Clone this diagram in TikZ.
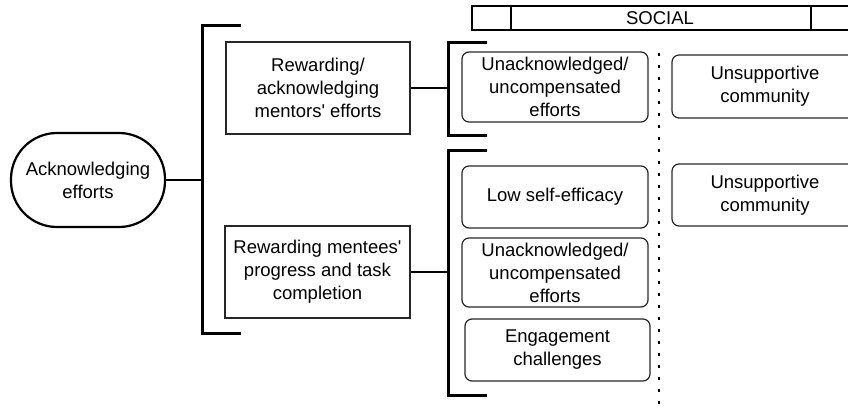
\documentclass[tikz,border=0pt]{standalone}
\usepackage{fontspec}
\setmainfont{Liberation Sans}[Ligatures=TeXOff]
\begin{document}
\begin{tikzpicture}[x=1pt,y=-1pt,
  every node/.style={font=\fontsize{18.5}{23}\selectfont, align=center, inner sep=2pt},
  sq/.style={draw, line width=1.2pt, draw=black!85},
  rbox/.style={draw, line width=1.2pt, draw=black!85, rounded corners=7pt},
  brk/.style={line width=3pt},
  conn/.style={line width=2.6pt},
  dotline/.style={line width=2.8pt, dash pattern=on 2.8pt off 9.2pt}]
\useasboundingbox (0,0) rectangle (848,409);
\clip (0,0) rectangle (848,409);
% header
\draw[line width=1.2pt] (472,6) rectangle (860,30);
\draw[line width=1.2pt] (511,6) -- (511,30);
\draw[line width=1.2pt] (811,6) -- (811,30);
\node[font=\fontsize{18.5}{23}\selectfont] (social) at (660,18.5) {SOCIAL};
% dotted divider
\coordinate (dtop) at (659,53);
\coordinate (dbot) at (659,412);
\draw[dotline] (dtop) -- (dbot);
% root
\node[draw, line width=2.2pt, rounded corners=46pt, minimum width=154pt, minimum height=94pt] (ack) at (88,180) {Acknowledging\\efforts};
% strategies
\node[sq, minimum width=184pt, minimum height=92pt] (rm) at (318,88) {Rewarding/\\acknowledging\\mentors' efforts};
\node[sq, minimum width=185pt, minimum height=92pt] (rt) at (317.5,272) {Rewarding mentees'\\progress and task\\completion};
% challenges
\node[rbox, minimum width=186pt, minimum height=70pt] (u1) at (555,87) {Unacknowledged/\\uncompensated\\efforts};
\node[rbox, minimum width=186pt, minimum height=63pt] (s1) at (765,86.5) {Unsupportive\\community};
\node[rbox, minimum width=186pt, minimum height=62pt] (low) at (555,197) {Low self-efficacy};
\node[rbox, minimum width=186pt, minimum height=62pt] (s2) at (765,195) {Unsupportive\\community};
\node[rbox, minimum width=186pt, minimum height=69pt] (u2) at (555,272.5) {Unacknowledged/\\uncompensated\\efforts};
\node[rbox, minimum width=185pt, minimum height=62pt] (eng) at (557.5,350) {Engagement\\challenges};
% brackets
\coordinate (b1t) at (241,26); \coordinate (b1a) at (202,26);
\coordinate (b1b) at (202,333); \coordinate (b1e) at (241,333);
\draw[brk] (b1t) -- (b1a) -- (b1b) -- (b1e);
\coordinate (b2t) at (487,43); \coordinate (b2a) at (448,43);
\coordinate (b2b) at (448,135); \coordinate (b2e) at (487,135);
\draw[brk] (b2t) -- (b2a) -- (b2b) -- (b2e);
\coordinate (b3t) at (487,150); \coordinate (b3a) at (448,150);
\coordinate (b3b) at (448,395); \coordinate (b3e) at (487,395);
\draw[brk] (b3t) -- (b3a) -- (b3b) -- (b3e);
% connectors
\draw[conn] (ack.east) -- (ack.east -| b1a);
\draw[conn] (rm.east) -- (rm.east -| b2a);
\draw[conn] (rt.east) -- (rt.east -| b3a);
\end{tikzpicture}
\end{document}
